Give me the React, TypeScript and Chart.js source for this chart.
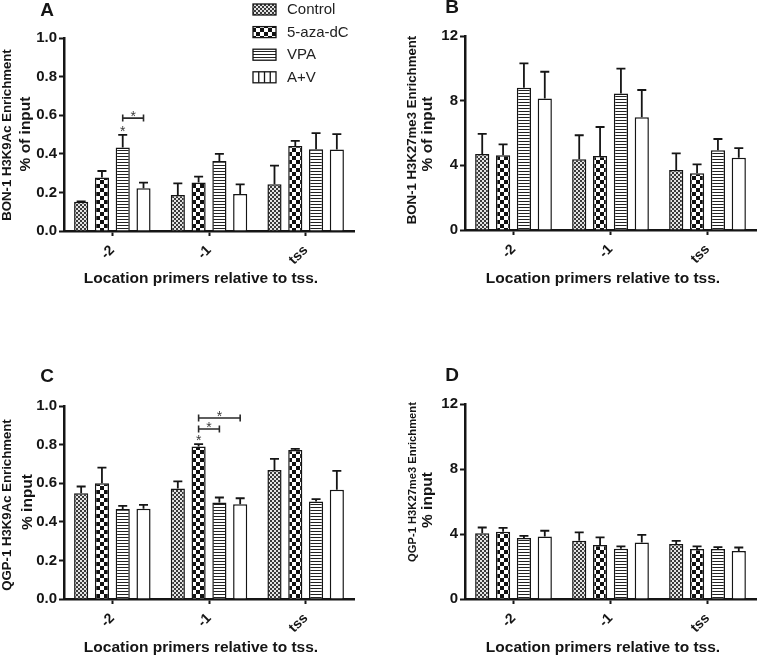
import React, { useEffect, useRef } from 'react';
import { Chart, registerables } from 'chart.js';

Chart.register(...registerables);

const FONT = "'Liberation Sans', Arial, Helvetica, sans-serif";
const INK = '#151515';

const categories = ['-2', '-1', 'tss'];
const seriesNames = ['Control', '5-aza-dC', 'VPA', 'A+V'];

// Panel A – BON-1 H3K9Ac (% of input), means and +SEM
const aControl = [0.152, 0.187, 0.242];
const aAza = [0.277, 0.251, 0.441];
const aVpa = [0.433, 0.363, 0.424];
const aAV = [0.221, 0.192, 0.422];
const aControlErr = [0.002, 0.06, 0.097];
const aAzaErr = [0.034, 0.031, 0.026];
const aVpaErr = [0.065, 0.037, 0.083];
const aAVErr = [0.03, 0.05, 0.08];
const aYTicks = [0, 0.2, 0.4, 0.6, 0.8, 1.0];

// Panel B – BON-1 H3K27me3 (% of input)
const bControl = [4.7, 4.37, 3.71];
const bAza = [4.62, 4.58, 3.51];
const bVpa = [8.8, 8.45, 4.93];
const bAV = [8.14, 6.97, 4.47];
const bControlErr = [1.24, 1.49, 1.03];
const bAzaErr = [0.68, 1.79, 0.55];
const bVpaErr = [1.51, 1.53, 0.7];
const bAVErr = [1.65, 1.69, 0.6];
const bYTicks = [0, 4, 8, 12];

// Panel C – QGP-1 H3K9Ac (% input)
const cControl = [0.548, 0.572, 0.669];
const cAza = [0.6, 0.79, 0.772];
const cVpa = [0.466, 0.5, 0.505];
const cAV = [0.467, 0.491, 0.566];
const cControlErr = [0.035, 0.037, 0.057];
const cAzaErr = [0.081, 0.012, 0.006];
const cVpaErr = [0.017, 0.026, 0.012];
const cAVErr = [0.021, 0.031, 0.098];
const cYTicks = [0, 0.2, 0.4, 0.6, 0.8, 1.0];

// Panel D – QGP-1 H3K27me3 (% input)
const dControl = [4.05, 3.58, 3.38];
const dAza = [4.14, 3.32, 3.07];
const dVpa = [3.75, 3.09, 3.07];
const dAV = [3.85, 3.48, 2.95];
const dControlErr = [0.35, 0.52, 0.2];
const dAzaErr = [0.24, 0.47, 0.17];
const dVpaErr = [0.14, 0.15, 0.12];
const dAVErr = [0.35, 0.47, 0.22];
const dYTicks = [0, 4, 8, 12];

// significance marks (category index, dataset index, value position)
const aStars = [{ cat: 0, ds: 2, y: 0.535 }];
const aBrackets = [{ cat: 0, from: 2, to: 3, y: 0.585 }];
const cStars = [{ cat: 1, ds: 1, y: 0.84 }];
const cBrackets = [
  { cat: 1, from: 1, to: 2, y: 0.881 },
  { cat: 1, from: 1, to: 3, y: 0.938 },
];

const xTitle = 'Location primers relative to tss.';

type Star = { cat: number; ds: number; y: number };
type Bracket = { cat: number; from: number; to: number; y: number };

type PanelCfg = {
  left: number;
  top: number;
  w: number;
  h: number;
  values: number[][];
  errs: number[][];
  yTicks: number[];
  decimals: number;
  letter: string;
  letterPos: [number, number];
  ySmall: string;
  ySmallPos: [number, number];
  ySmallSize: number;
  yBig: string;
  yBigPos: [number, number];
  xTitlePos: [number, number];
  area: { left: number; top: number; right: number; bottom: number };
  stars: Star[];
  brackets: Bracket[];
  legend: boolean;
};

function makePatterns(ctx: CanvasRenderingContext2D) {
  const tile = (w: number, h: number, draw: (g: CanvasRenderingContext2D) => void) => {
    const c = document.createElement('canvas');
    c.width = w;
    c.height = h;
    const g = c.getContext('2d')!;
    g.fillStyle = '#ffffff';
    g.fillRect(0, 0, w, h);
    draw(g);
    return ctx.createPattern(c, 'repeat')!;
  };
  const control = tile(4, 4, (g) => {
    g.fillStyle = '#3a3a3a';
    g.fillRect(0, 0, 2, 2);
    g.fillRect(2, 2, 2, 2);
    g.fillStyle = '#e4e4e4';
    g.fillRect(2, 0, 2, 2);
    g.fillRect(0, 2, 2, 2);
  });
  const aza = tile(8, 8, (g) => {
    g.fillStyle = '#111111';
    g.fillRect(0, 0, 4, 4);
    g.fillRect(4, 4, 4, 4);
  });
  const vpa = tile(1, 3, (g) => {
    g.fillStyle = '#222222';
    g.fillRect(0, 0, 1, 1);
  });
  return { control, aza, vpa };
}

function Panel({ cfg }: { cfg: PanelCfg }) {
  const ref = useRef<HTMLCanvasElement>(null);

  useEffect(() => {
    const canvas = ref.current!;
    const ctx = canvas.getContext('2d')!;
    const pats = makePatterns(ctx);
    const fills: (string | CanvasPattern)[] = [pats.control, pats.aza, pats.vpa, '#ffffff'];
    const yMax = cfg.yTicks[cfg.yTicks.length - 1];
    const step = cfg.yTicks[1] - cfg.yTicks[0];

    const errorBars = {
      id: 'errorBars',
      afterDatasetsDraw(chart: any) {
        const c = chart.ctx;
        const ys = chart.scales.y;
        c.save();
        c.strokeStyle = INK;
        c.lineWidth = 1.8;
        chart.data.datasets.forEach((ds: any, di: number) => {
          const meta = chart.getDatasetMeta(di);
          meta.data.forEach((bar: any, i: number) => {
            const v = ds.data[i];
            const e = cfg.errs[di][i];
            const yTop = ys.getPixelForValue(v + e);
            c.beginPath();
            c.moveTo(bar.x, bar.y);
            c.lineTo(bar.x, yTop);
            c.moveTo(bar.x - 4.5, yTop);
            c.lineTo(bar.x + 4.5, yTop);
            c.stroke();
          });
        });
        c.restore();
      },
    };

    const drawStar = (c: CanvasRenderingContext2D, x: number, cy: number) => {
      c.save();
      c.fillStyle = '#3a3a3a';
      c.font = `14px ${FONT}`;
      c.textAlign = 'center';
      c.textBaseline = 'alphabetic';
      c.fillText('*', x, cy + 8);
      c.restore();
    };

    const texts = {
      id: 'texts',
      afterDraw(chart: any) {
        const c: CanvasRenderingContext2D = chart.ctx;
        const ys = chart.scales.y;
        c.save();
        c.fillStyle = INK;
        // panel letter
        c.font = `bold 19px ${FONT}`;
        c.textAlign = 'center';
        c.textBaseline = 'middle';
        c.fillText(cfg.letter, cfg.letterPos[0], cfg.letterPos[1]);
        // y titles
        c.save();
        c.translate(cfg.ySmallPos[0], cfg.ySmallPos[1]);
        c.rotate(-Math.PI / 2);
        c.font = `bold ${cfg.ySmallSize}px ${FONT}`;
        c.fillText(cfg.ySmall, 0, 0);
        c.restore();
        c.save();
        c.translate(cfg.yBigPos[0], cfg.yBigPos[1]);
        c.rotate(-Math.PI / 2);
        c.font = `bold 15.5px ${FONT}`;
        c.fillText(cfg.yBig, 0, 0);
        c.restore();
        // x title
        c.font = `bold 15.5px ${FONT}`;
        c.fillText(xTitle, cfg.xTitlePos[0], cfg.xTitlePos[1]);

        // significance
        cfg.stars.forEach((s) => {
          const bar = chart.getDatasetMeta(s.ds).data[s.cat];
          drawStar(c, bar.x, ys.getPixelForValue(s.y));
        });
        cfg.brackets.forEach((b) => {
          const x1 = chart.getDatasetMeta(b.from).data[b.cat].x;
          const x2 = chart.getDatasetMeta(b.to).data[b.cat].x;
          const yy = ys.getPixelForValue(b.y);
          c.save();
          c.strokeStyle = '#2a2a2a';
          c.lineWidth = 1.6;
          c.beginPath();
          c.moveTo(x1, yy);
          c.lineTo(x2, yy);
          c.moveTo(x1, yy - 3.5);
          c.lineTo(x1, yy + 3.5);
          c.moveTo(x2, yy - 3.5);
          c.lineTo(x2, yy + 3.5);
          c.stroke();
          c.restore();
          drawStar(c, (x1 + x2) / 2, yy - 5);
        });

        // legend
        if (cfg.legend) {
          const sx = 253;
          const sw = 23;
          const sh = 11;
          seriesNames.forEach((name, i) => {
            const top = 4 + i * 22.6;
            c.fillStyle = fills[i] as any;
            c.fillRect(sx, top, sw, sh);
            c.strokeStyle = INK;
            c.lineWidth = 1.3;
            c.strokeRect(sx, top, sw, sh);
            if (i === 3) {
              c.beginPath();
              for (let k = 1; k <= 3; k++) {
                const lx = sx + (sw * k) / 4;
                c.moveTo(lx, top);
                c.lineTo(lx, top + sh);
              }
              c.stroke();
            }
            c.fillStyle = '#222';
            c.font = `15px ${FONT}`;
            c.textAlign = 'left';
            c.textBaseline = 'middle';
            c.fillText(name, 287, top + sh / 2 + 0.5);
          });
        }
        c.restore();
      },
    };

    const chart = new Chart(canvas, {
      type: 'bar',
      data: {
        labels: categories,
        datasets: cfg.values.map((vals, i) => ({
          label: seriesNames[i],
          data: vals,
          backgroundColor: fills[i] as any,
          borderColor: INK,
          borderWidth: 1.5,
          categoryPercentage: 0.86,
          barPercentage: 0.68,
        })),
      },
      options: {
        responsive: false,
        animation: false,
        layout: {
          padding: {
            left: 0,
            top: cfg.area.top,
            right: cfg.w - cfg.area.right,
            bottom: 0,
          },
        },
        plugins: {
          legend: { display: false },
          tooltip: { enabled: false },
          title: { display: false },
        },
        scales: {
          x: {
            type: 'category',
            offset: true,
            afterFit: (s: any) => {
              s.height = cfg.h - cfg.area.bottom;
            },
            grid: {
              display: true,
              offset: false,
              drawOnChartArea: false,
              drawTicks: true,
              tickLength: 5,
              tickWidth: 2,
              color: INK,
            },
            border: { display: true, width: 2.5, color: INK },
            ticks: {
              minRotation: 45,
              maxRotation: 45,
              padding: 6,
              color: INK,
              font: { family: FONT, size: 14, weight: 'bold' },
            },
          },
          y: {
            min: 0,
            max: yMax,
            afterFit: (s: any) => {
              s.width = cfg.area.left;
            },
            afterBuildTicks: (s: any) => {
              s.ticks = cfg.yTicks.map((v) => ({ value: v }));
            },
            grid: {
              display: true,
              drawOnChartArea: false,
              drawTicks: true,
              tickLength: 5,
              tickWidth: 2,
              color: INK,
            },
            border: { display: true, width: 2.5, color: INK },
            ticks: {
              stepSize: step,
              padding: 2,
              color: INK,
              font: { family: FONT, size: 15, weight: 'bold' },
              callback: (v: any) => Number(v).toFixed(cfg.decimals),
            },
          },
        },
      },
      plugins: [errorBars, texts],
    } as any);

    return () => chart.destroy();
  }, []);

  return (
    <canvas
      ref={ref}
      width={cfg.w}
      height={cfg.h}
      style={{ position: 'absolute', left: cfg.left, top: cfg.top, width: cfg.w, height: cfg.h, display: 'block' }}
    />
  );
}

const panels: PanelCfg[] = [
  {
    left: 0, top: 0, w: 380, h: 330,
    values: [aControl, aAza, aVpa, aAV],
    errs: [aControlErr, aAzaErr, aVpaErr, aAVErr],
    yTicks: aYTicks, decimals: 1,
    letter: 'A', letterPos: [47, 11],
    ySmall: 'BON-1 H3K9Ac Enrichment', ySmallPos: [7, 135], ySmallSize: 13.2,
    yBig: '% of input', yBigPos: [26, 134],
    xTitlePos: [201, 279],
    area: { left: 64, top: 38, right: 354, bottom: 231 },
    stars: aStars, brackets: aBrackets, legend: true,
  },
  {
    left: 380, top: 0, w: 380, h: 330,
    values: [bControl, bAza, bVpa, bAV],
    errs: [bControlErr, bAzaErr, bVpaErr, bAVErr],
    yTicks: bYTicks, decimals: 0,
    letter: 'B', letterPos: [72, 8],
    ySmall: 'BON-1 H3K27me3 Enrichment', ySmallPos: [32, 130], ySmallSize: 13.2,
    yBig: '% of input', yBigPos: [48, 134],
    xTitlePos: [223, 279],
    area: { left: 85, top: 36, right: 376, bottom: 230 },
    stars: [], brackets: [], legend: false,
  },
  {
    left: 0, top: 330, w: 380, h: 326,
    values: [cControl, cAza, cVpa, cAV],
    errs: [cControlErr, cAzaErr, cVpaErr, cAVErr],
    yTicks: cYTicks, decimals: 1,
    letter: 'C', letterPos: [47, 47],
    ySmall: 'QGP-1 H3K9Ac Enrichment', ySmallPos: [7, 175], ySmallSize: 13.2,
    yBig: '% input', yBigPos: [28, 172],
    xTitlePos: [201, 318],
    area: { left: 64, top: 76, right: 354, bottom: 269 },
    stars: cStars, brackets: cBrackets, legend: false,
  },
  {
    left: 380, top: 330, w: 380, h: 326,
    values: [dControl, dAza, dVpa, dAV],
    errs: [dControlErr, dAzaErr, dVpaErr, dAVErr],
    yTicks: dYTicks, decimals: 0,
    letter: 'D', letterPos: [72, 46],
    ySmall: 'QGP-1 H3K27me3 Enrichment', ySmallPos: [33, 152], ySmallSize: 11.2,
    yBig: '% input', yBigPos: [48, 170],
    xTitlePos: [223, 318],
    area: { left: 85, top: 74, right: 376, bottom: 269 },
    stars: [], brackets: [], legend: false,
  },
];

export default function App() {
  return (
    <div style={{ position: 'absolute', left: 0, top: 0, width: 760, height: 656, background: '#ffffff' }}>
      {panels.map((p) => (
        <Panel key={p.letter} cfg={p} />
      ))}
    </div>
  );
}
